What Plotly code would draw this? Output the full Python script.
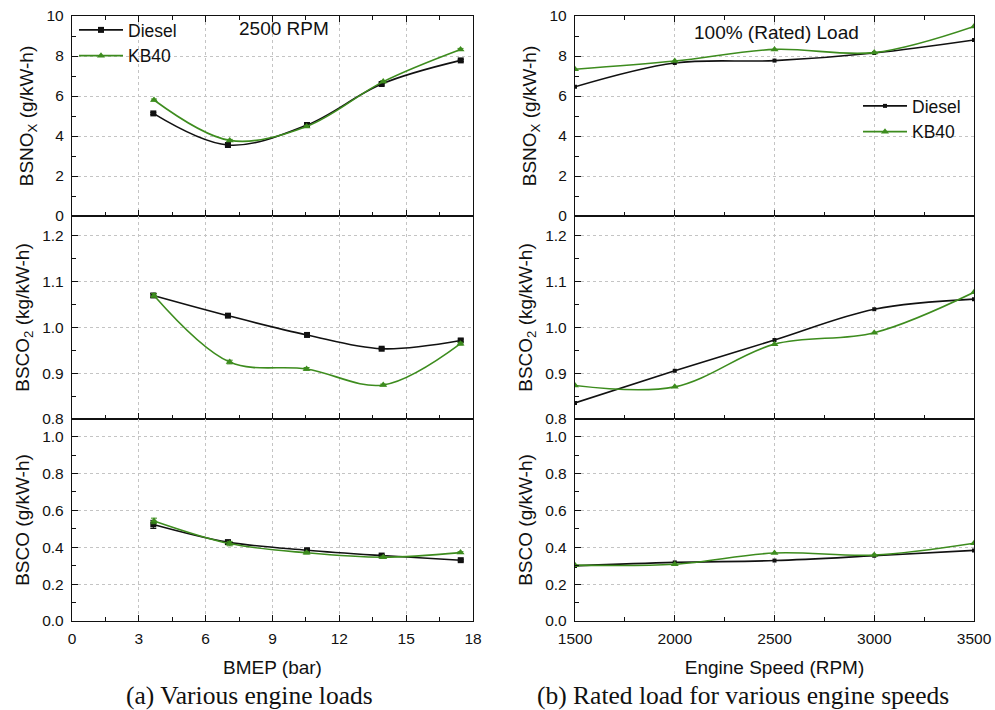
import plotly.graph_objects as go

# ---------------- data ----------------
# (a) various engine loads at 2500 RPM
bmep_diesel = [3.65, 7.0, 10.55, 13.9, 17.45]
bmep_kb40 = [3.68, 7.08, 10.53, 13.97, 17.44]
nox_a_diesel = [5.13, 3.55, 4.55, 6.60, 7.78]
nox_a_kb40 = [5.80, 3.78, 4.48, 6.72, 8.33]
co2_a_diesel = [1.069, 1.025, 0.983, 0.953, 0.971]
co2_a_kb40 = [1.069, 0.924, 0.909, 0.874, 0.964]
co_a_diesel = [0.524, 0.428, 0.384, 0.355, 0.330]
co_a_kb40 = [0.543, 0.420, 0.370, 0.346, 0.371]
nox_a_err_d = [0.05, 0.05, 0.05, 0.05, 0.05]
nox_a_err_k = [0.05, 0.05, 0.05, 0.05, 0.05]
co2_a_err_d = [0.004, 0.002, 0.002, 0.002, 0.003]
co2_a_err_k = [0.004, 0.004, 0.003, 0.002, 0.003]
co_a_err_d = [0.022, 0.010, 0.006, 0.006, 0.005]
co_a_err_k = [0.015, 0.012, 0.006, 0.006, 0.005]

# (b) rated load for various engine speeds
speed = [1500, 2000, 2500, 3000, 3500]
nox_b_diesel = [6.46, 7.65, 7.77, 8.15, 8.80]
nox_b_kb40 = [7.34, 7.75, 8.33, 8.17, 9.48]
co2_b_diesel = [0.835, 0.905, 0.972, 1.039, 1.061]
co2_b_kb40 = [0.873, 0.870, 0.963, 0.988, 1.076]
co_b_diesel = [0.299, 0.318, 0.328, 0.354, 0.383]
co_b_kb40 = [0.303, 0.308, 0.369, 0.358, 0.422]

ytitles = ["BSNO<sub>X</sub> (g/kW-h)", "BSCO<sub>2</sub> (kg/kW-h)", "BSCO (g/kW-h)"]
xtitles = ["BMEP (bar)", "Engine Speed (RPM)"]
captions = ["(a) Various engine loads", "(b) Rated load for various engine speeds"]
series_names = ["Diesel", "KB40"]

# ---------------- style ----------------
BLACK = "#111111"
GREEN = "#3d8c1e"
FONT = "Liberation Sans, Arial, sans-serif"
SERIF = "Liberation Serif, Times New Roman, serif"
W, H = 995, 710

xdom = [[72 / W, 473 / W], [575 / W, 974 / W]]
ypix = [(16, 216), (216, 419), (419, 621)]
ydom = [[1 - b / H, 1 - t / H] for (t, b) in ypix]
yranges = [[0, 10], [0.8, 1.242], [0, 1.096]]
ydt = [2, 0.1, 0.2]
xranges = [[0, 18], [1500, 3500]]
xdt = [3, 500]

fig = go.Figure()

panels = [
    dict(xd=bmep_diesel, xk=bmep_kb40,
         rows=[(nox_a_diesel, nox_a_kb40, nox_a_err_d, nox_a_err_k),
               (co2_a_diesel, co2_a_kb40, co2_a_err_d, co2_a_err_k),
               (co_a_diesel, co_a_kb40, co_a_err_d, co_a_err_k)],
         dsize=6, legend="legend"),
    dict(xd=speed, xk=speed,
         rows=[(nox_b_diesel, nox_b_kb40, None, None),
               (co2_b_diesel, co2_b_kb40, None, None),
               (co_b_diesel, co_b_kb40, None, None)],
         dsize=4, legend="legend2"),
]

for p, pan in enumerate(panels):
    for r, (yd, yk, ed, ek) in enumerate(pan["rows"]):
        i = p * 3 + r + 1
        sx = "" if i == 1 else str(i)
        show = (r == 0)
        fig.add_trace(go.Scatter(
            x=pan["xd"], y=yd, name=series_names[0], mode="lines+markers",
            line=dict(color=BLACK, width=1.6, shape="spline"),
            marker=dict(symbol="square", size=pan["dsize"], color=BLACK),
            error_y=dict(type="data", array=ed, visible=ed is not None,
                         color=BLACK, thickness=1, width=3),
            xaxis="x" + sx, yaxis="y" + sx, showlegend=show,
            legend=pan["legend"]))
        fig.add_trace(go.Scatter(
            x=pan["xk"], y=yk, name=series_names[1], mode="lines+markers",
            line=dict(color=GREEN, width=1.6, shape="spline"),
            marker=dict(symbol="triangle-up", size=7, color=GREEN),
            error_y=dict(type="data", array=ek, visible=ek is not None,
                         color=GREEN, thickness=1, width=3),
            xaxis="x" + sx, yaxis="y" + sx, showlegend=show,
            legend=pan["legend"]))

layout = dict(
    width=W, height=H,
    margin=dict(l=0, r=0, t=0, b=0, autoexpand=False),
    paper_bgcolor="white", plot_bgcolor="white",
    font=dict(family=FONT, size=14, color="#111"),
    showlegend=True,
    legend=dict(x=74 / W, y=1 - 12 / H, xanchor="left", yanchor="top",
                bgcolor="rgba(0,0,0,0)", font=dict(size=17.5, family=FONT),
                tracegroupgap=0, itemwidth=44),
    legend2=dict(x=858 / W, y=1 - 88 / H, xanchor="left", yanchor="top",
                 bgcolor="rgba(0,0,0,0)", font=dict(size=17.5, family=FONT),
                 tracegroupgap=0, itemwidth=44),
)

for p in range(2):
    for r in range(3):
        i = p * 3 + r + 1
        sx = "" if i == 1 else str(i)
        xa = dict(
            domain=xdom[p], range=xranges[p], anchor="y" + sx, automargin=False,
            tickmode="linear", tick0=xranges[p][0], dtick=xdt[p],
            ticks="inside", ticklen=6, tickwidth=1.2, tickcolor="#111",
            minor=dict(ticks="inside", ticklen=4, dtick=xdt[p] / 2,
                       tickcolor="#111", showgrid=False),
            showline=True, linecolor="#111", linewidth=1.3,
            mirror="ticks" if r == 0 else True,
            showgrid=True, gridcolor="#c4c4c4", griddash="dot", gridwidth=1,
            zeroline=False, showticklabels=(r == 2),
            tickfont=dict(size=15.5, family=FONT), ticklabelstandoff=3,
        )
        if r == 2:
            xa["title"] = dict(text=xtitles[p], font=dict(size=19, family=FONT),
                               standoff=14)
        if r > 0:
            xa["matches"] = "x" + ("" if p == 0 else "4")
        ya = dict(
            domain=ydom[r], range=yranges[r], anchor="x" + sx, automargin=False,
            tickmode="linear", tick0=yranges[r][0], dtick=ydt[r],
            ticks="inside", ticklen=6, tickwidth=1.2, tickcolor="#111",
            minor=dict(ticks="inside", ticklen=4, dtick=ydt[r] / 2,
                       tickcolor="#111", showgrid=False),
            showline=True, linecolor="#111", linewidth=1.3, mirror=True,
            showgrid=True, gridcolor="#c4c4c4", griddash="dot", gridwidth=1,
            zeroline=False, tickfont=dict(size=15.5, family=FONT),
            tickformat=".1f" if r > 0 else "d",
            ticklabelstandoff=4,
            title=dict(text=ytitles[r], font=dict(size=19, family=FONT),
                       standoff=7),
        )
        layout["xaxis" + sx] = xa
        layout["yaxis" + sx] = ya

annotations = [
    dict(text="2500 RPM", x=284 / W, y=1 - 29 / H),
    dict(text="100% (Rated) Load", x=776 / W, y=1 - 32 / H),
    dict(text=captions[0], x=250 / W, y=1 - 695 / H),
    dict(text=captions[1], x=743 / W, y=1 - 695 / H),
]
for k, a in enumerate(annotations):
    a.update(xref="paper", yref="paper", xanchor="center", yanchor="middle",
             showarrow=False,
             font=dict(size=19, family=FONT) if k < 2 else dict(size=25.5, family=SERIF))
layout["annotations"] = annotations

fig.update_layout(**layout)
fig.write_html("out.html", config={"displayModeBar": False},
               post_script="document.body.style.margin='0';")
